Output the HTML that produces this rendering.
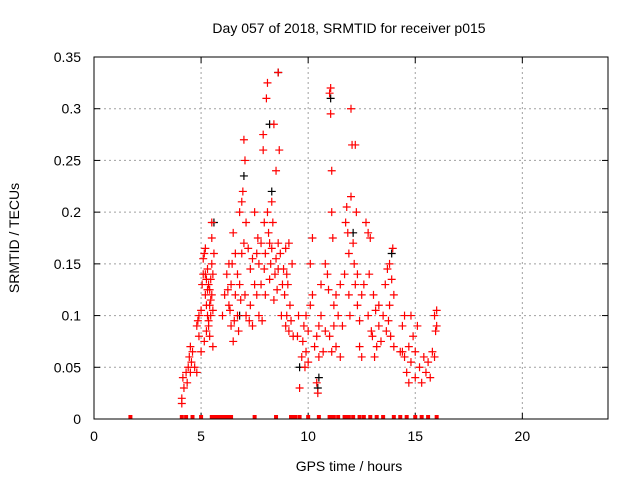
<!DOCTYPE html>
<html><head><meta charset="utf-8"><style>
body{margin:0;background:#fff}
svg{display:block;font-family:"Liberation Sans",sans-serif}
</style></head><body>
<svg id="chart" width="640" height="480" viewBox="0 0 640 480">
<text x="349" y="33" font-size="14" text-anchor="middle">Day 057 of 2018, SRMTID for receiver p015</text>
<text transform="translate(19,238) rotate(-90)" font-size="14" text-anchor="middle">SRMTID / TECUs</text>
<text x="349" y="471" font-size="14" text-anchor="middle">GPS time / hours</text>
<g id="grid"></g><g id="axes"></g><g id="marks"></g>
<rect x="94" y="57" width="514" height="362" fill="none" stroke="#000" stroke-width="1"/>
</svg>
<script>
const xTicks=[0,5,10,15,20];
const yTicks=[0,0.05,0.1,0.15,0.2,0.25,0.3,0.35];
const yTickLabels=["0","0.05","0.1","0.15","0.2","0.25","0.3","0.35"];
const zeroHours=[1.7,4.1,4.3,4.6,5.0,5.5,5.6,5.7,5.8,5.9,6.0,6.1,6.2,6.3,6.4,7.5,8.5,9.2,9.3,9.4,9.6,10.0,10.5,11.0,11.1,11.2,11.4,11.7,11.8,11.9,12.1,12.4,12.6,12.9,13.2,13.5,14.0,14.3,14.6,15.0,15.3,15.6,16.0];
const blackHours=[8.6,8.2,11.05,7.0,10.45,9.6,5.6,12.1,13.9,6.8,8.3,10.5];
const blackValues=[0.335,0.285,0.31,0.235,0.03,0.05,0.19,0.18,0.16,0.1,0.22,0.04];
const redHours=[4.1,4.1,4.15,4.2,4.3,4.35,4.4,4.45,4.5,4.5,4.55,4.6,4.7,4.8,4.8,4.85,4.9,5.0,5.0,4.9,
5.05,5.1,5.1,5.15,5.2,5.2,5.25,5.3,5.3,5.35,5.4,5.4,5.45,5.5,5.5,5.5,5.55,5.55,5.6,5.45,5.35,5.25,5.15,
5.2,5.3,5.4,5.5,5.35,5.45,5.25,5.55,
6.0,6.1,6.2,6.3,6.3,6.4,6.4,6.5,6.5,6.6,6.6,6.7,6.7,6.8,6.8,6.9,6.9,6.95,7.0,7.0,7.05,7.05,7.1,7.1,6.85,6.75,6.55,6.45,6.25,6.35,
7.2,7.3,7.3,7.4,7.4,7.5,7.5,7.6,7.6,7.7,7.7,7.8,7.8,7.9,7.9,7.95,7.95,8.0,8.0,7.85,7.65,7.25,
8.05,8.1,8.1,8.15,8.2,8.25,8.3,8.35,8.4,8.45,8.5,8.5,8.55,8.6,8.6,8.65,8.7,8.75,8.8,8.2,8.4,8.3,8.6,
8.85,8.9,8.95,9.0,9.0,9.05,9.1,9.15,9.2,9.25,9.3,8.95,9.1,9.55,9.5,
9.6,9.7,9.75,9.8,9.9,9.9,10.0,10.0,10.1,10.1,10.2,10.2,10.3,10.4,10.4,10.45,10.5,10.5,10.6,10.6,10.7,10.8,10.8,9.85,
10.9,10.95,11.0,11.05,11.05,11.1,11.1,11.15,11.2,11.2,11.3,11.3,11.4,11.5,11.5,11.6,11.0,11.1,
11.7,11.75,11.8,11.85,11.9,11.9,12.0,12.0,12.05,12.1,12.15,12.2,12.25,12.3,12.3,12.4,12.4,12.5,11.95,12.2,12.5,
12.6,12.7,12.8,12.8,12.9,12.95,13.0,13.05,13.1,13.2,13.3,13.3,13.4,12.85,13.15,
13.5,13.6,13.7,13.75,13.8,13.8,13.85,13.9,13.95,14.0,14.0,13.65,
14.3,14.4,14.5,14.5,14.6,14.7,14.7,14.8,14.9,15.0,15.0,15.1,15.2,15.3,15.4,15.5,15.6,15.7,15.8,15.9,15.95,16.0,15.9,16.0,14.8,14.4];
const redValues=[0.015,0.02,0.04,0.03,0.045,0.035,0.05,0.06,0.07,0.045,0.055,0.065,0.05,0.045,0.09,0.095,0.1,0.105,0.065,0.08,
0.13,0.14,0.155,0.16,0.165,0.12,0.11,0.1,0.145,0.09,0.125,0.08,0.135,0.15,0.175,0.19,0.105,0.07,0.16,0.115,0.13,0.085,0.075,
0.14,0.125,0.11,0.12,0.095,0.1,0.135,0.14,
0.1,0.12,0.14,0.15,0.11,0.13,0.09,0.18,0.075,0.16,0.12,0.14,0.1,0.2,0.13,0.21,0.16,0.22,0.27,0.17,0.25,0.12,0.19,0.1,0.115,0.085,0.095,0.15,0.125,0.105,
0.165,0.145,0.11,0.155,0.09,0.13,0.2,0.12,0.16,0.1,0.15,0.17,0.13,0.26,0.275,0.19,0.145,0.16,0.12,0.095,0.175,0.095,
0.31,0.325,0.2,0.18,0.17,0.15,0.165,0.19,0.285,0.14,0.155,0.24,0.125,0.17,0.335,0.26,0.16,0.1,0.13,0.135,0.115,0.21,0.145,
0.145,0.12,0.09,0.14,0.1,0.13,0.085,0.11,0.095,0.15,0.08,0.165,0.17,0.1,0.08,
0.03,0.06,0.075,0.09,0.1,0.065,0.055,0.085,0.11,0.15,0.175,0.12,0.07,0.08,0.035,0.025,0.09,0.06,0.1,0.13,0.065,0.15,0.085,0.05,
0.14,0.125,0.315,0.32,0.295,0.24,0.2,0.175,0.11,0.09,0.07,0.12,0.1,0.13,0.06,0.09,0.08,0.065,
0.14,0.19,0.205,0.18,0.16,0.12,0.3,0.215,0.265,0.17,0.15,0.265,0.2,0.14,0.11,0.095,0.07,0.06,0.1,0.13,0.12,
0.13,0.19,0.18,0.1,0.175,0.085,0.08,0.12,0.06,0.07,0.09,0.11,0.075,0.14,0.105,
0.1,0.13,0.145,0.095,0.15,0.11,0.08,0.135,0.165,0.07,0.12,0.085,
0.065,0.09,0.1,0.06,0.045,0.07,0.035,0.055,0.08,0.04,0.065,0.09,0.05,0.035,0.06,0.045,0.055,0.04,0.065,0.1,0.085,0.09,0.06,0.105,0.1,0.065];

const NS="http://www.w3.org/2000/svg";
const X0=94,X1=608,Y0=419,Y1=57;
function sx(h){return X0+(h/24)*(X1-X0);}
function sy(v){return Y0-(v/0.35)*(Y0-Y1);}
function mk(tag,attrs,parent){const e=document.createElementNS(NS,tag);for(const k in attrs)e.setAttribute(k,attrs[k]);parent.appendChild(e);return e;}
const grid=document.getElementById('grid'),axes=document.getElementById('axes'),marks=document.getElementById('marks');
xTicks.forEach((t,i)=>{
  const x=sx(t);
  if(t>0){const g=mk('line',{x1:x,x2:x,y1:Y0,y2:Y1,stroke:'#a0a0a0','stroke-dasharray':'2,3'},grid);
  
  }
  mk('line',{x1:x,x2:x,y1:Y0,y2:Y0-6,stroke:'#000'},axes);
  mk('line',{x1:x,x2:x,y1:Y1,y2:Y1+6,stroke:'#000'},axes);
  const tx=mk('text',{x:x,y:Y0+22,'font-size':14,'text-anchor':'middle'},axes);
  tx.textContent=String(t);
  
  
});
yTicks.forEach((t,i)=>{
  const y=sy(t);
  if(t>0&&t<0.35){const g=mk('line',{x1:X0,x2:X1,y1:y,y2:y,stroke:'#a0a0a0','stroke-dasharray':'2,3'},grid);
  
  }
  mk('line',{x1:X0,x2:X0+6,y1:y,y2:y,stroke:'#000'},axes);
  mk('line',{x1:X1,x2:X1-6,y1:y,y2:y,stroke:'#000'},axes);
  const tx=mk('text',{x:X0-13,y:y+5,'font-size':14,'text-anchor':'end'},axes);
  tx.textContent=yTickLabels[i];
  
  
});
function plus(h,v,color,name){
  const x=sx(h),y=sy(v);
  const p=mk('path',{d:`M${x-4},${y}H${x+4}M${x},${y-4}V${y+4}`,stroke:color,'stroke-width':1.2,fill:'none'},marks);
  
  
}
blackHours.forEach((h,i)=>plus(h,blackValues[i],'#000','black-point'));
redHours.forEach((h,i)=>plus(h,redValues[i],'#ff0000','red-point'));
zeroHours.forEach(h=>{
  const x=sx(h);
  const r=mk('rect',{x:x-2,y:Y0-4,width:4,height:4,fill:'#ff0000'},marks);
  
  
});
</script>
</body></html>
